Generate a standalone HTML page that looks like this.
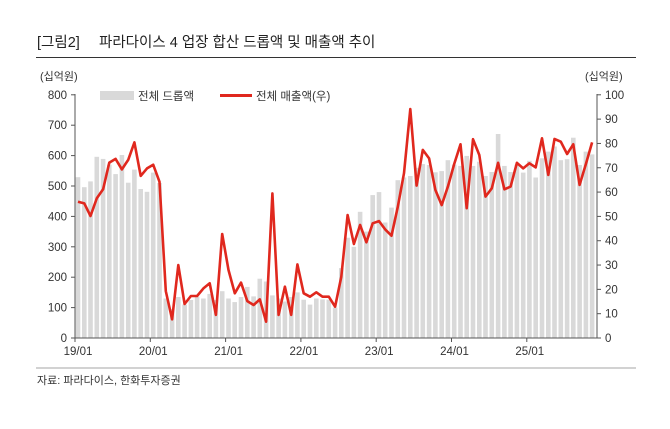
<!DOCTYPE html>
<html><head><meta charset="utf-8"><style>
body{margin:0;background:#fff;width:670px;height:424px;overflow:hidden;font-family:"Liberation Sans","Noto Sans CJK KR",sans-serif;}
svg text{font-family:"Liberation Sans","Noto Sans CJK KR",sans-serif;}
</style></head><body>
<svg id="c" width="670" height="424" xmlns="http://www.w3.org/2000/svg">
<text x="37" y="47" font-size="14.5" fill="#222">[그림2]</text>
<text x="99" y="47" font-size="14.5" fill="#222">파라다이스 4 업장 합산 드롭액 및 매출액 추이</text>
<line x1="36" y1="57.5" x2="636" y2="57.5" stroke="#333" stroke-width="1"/>
<text x="40" y="80" font-size="11" fill="#333">(십억원)</text>
<text x="585" y="80" font-size="11" fill="#333">(십억원)</text>
<rect x="100" y="91" width="34" height="9" fill="#d9d9d9"/>
<text x="138" y="100" font-size="11.5" fill="#333">전체 드롭액</text>
<line x1="220" y1="95.5" x2="252" y2="95.5" stroke="#e0281e" stroke-width="3"/>
<text x="256" y="100" font-size="11.5" fill="#333">전체 매출액(우)</text>
<g id="g"></g>
<line x1="36" y1="368" x2="636" y2="368" stroke="#888" stroke-width="0.8"/>
<text x="37" y="384" font-size="11" fill="#333">자료: 파라다이스, 한화투자증권</text>
</svg>
<script>
var bars=[529,496,515,596,589,570,539,602,511,554,490,481,544,510,130,95,135,110,125,135,130,145,125,154,130,118,135,168,137,195,186,140,130,120,135,150,126,110,130,127,126,100,230,330,300,415,350,470,480,380,429,519,528,533,560,572,569,545,549,585,570,566,599,566,580,533,546,671,566,546,570,544,583,528,591,613,630,585,588,659,569,613,604];
var line=[56.1,55.4,50.2,57.5,61.2,72.2,73.7,69.4,73.3,80.5,66.7,69.8,71.3,64.3,19.3,7.7,30,14,17.3,17.3,20.4,22.5,9.5,42.8,28,18.4,22.8,15.2,13.6,15.9,6.7,59.5,9.5,21.1,9.5,30.3,18.4,17,18.8,17,17,12.9,25.2,50.6,38.7,46.5,39.4,47.2,48.1,44.7,42.1,54,67.8,94.2,62.7,77.4,73.9,60.9,54.7,62.3,71.6,79.7,53.4,81.8,75.3,58.2,61.6,72.1,61.2,62.3,72.1,69.8,71.9,70.2,82.2,67.1,81.9,80.8,75.7,79.7,63,71.6,80.5];
var s='',y0=338,L=75,R=597;
function X(i){return 78+6.27*i;}
for(var i=0;i<bars.length;i++){var h=bars[i]*0.304;s+='<rect x="'+(X(i)-2.3).toFixed(1)+'" y="'+(y0-h).toFixed(1)+'" width="4.6" height="'+h.toFixed(1)+'" fill="#d9d9d9"/>';}
var p='';for(i=0;i<line.length;i++){p+=(i?'L':'M')+X(i).toFixed(1)+','+(y0-line[i]*2.43).toFixed(1);}
s+='<path d="'+p+'" fill="none" stroke="#e0281e" stroke-width="2.6" stroke-linejoin="round"/>';
s+='<line x1="'+L+'" y1="94" x2="'+L+'" y2="'+y0+'" stroke="#555"/>';
s+='<line x1="'+R+'" y1="94" x2="'+R+'" y2="'+y0+'" stroke="#555"/>';
s+='<line x1="'+L+'" y1="'+y0+'" x2="'+R+'" y2="'+y0+'" stroke="#555"/>';
for(var k=0;k<=8;k++){var y=y0-k*30.4;s+='<line x1="'+(L-4)+'" y1="'+y+'" x2="'+L+'" y2="'+y+'" stroke="#555"/><text x="'+(L-8)+'" y="'+(y+4)+'" font-size="11.5" fill="#333" text-anchor="end">'+(k*100)+'</text>';}
for(k=0;k<=10;k++){var y=y0-k*24.32;s+='<line x1="'+R+'" y1="'+y+'" x2="'+(R+4)+'" y2="'+y+'" stroke="#555"/><text x="'+(R+8)+'" y="'+(y+4)+'" font-size="11.5" fill="#333">'+(k*10)+'</text>';}
var lb=['19/01','20/01','21/01','22/01','23/01','24/01','25/01'];
for(k=0;k<7;k++){var x=75+75.3*k;s+='<line x1="'+x+'" y1="'+y0+'" x2="'+x+'" y2="'+(y0+4)+'" stroke="#555"/><text x="'+(x+3)+'" y="'+(y0+17)+'" font-size="11.5" fill="#333" text-anchor="middle">'+lb[k]+'</text>';}
document.getElementById('g').innerHTML=s;
</script>
</body></html>
